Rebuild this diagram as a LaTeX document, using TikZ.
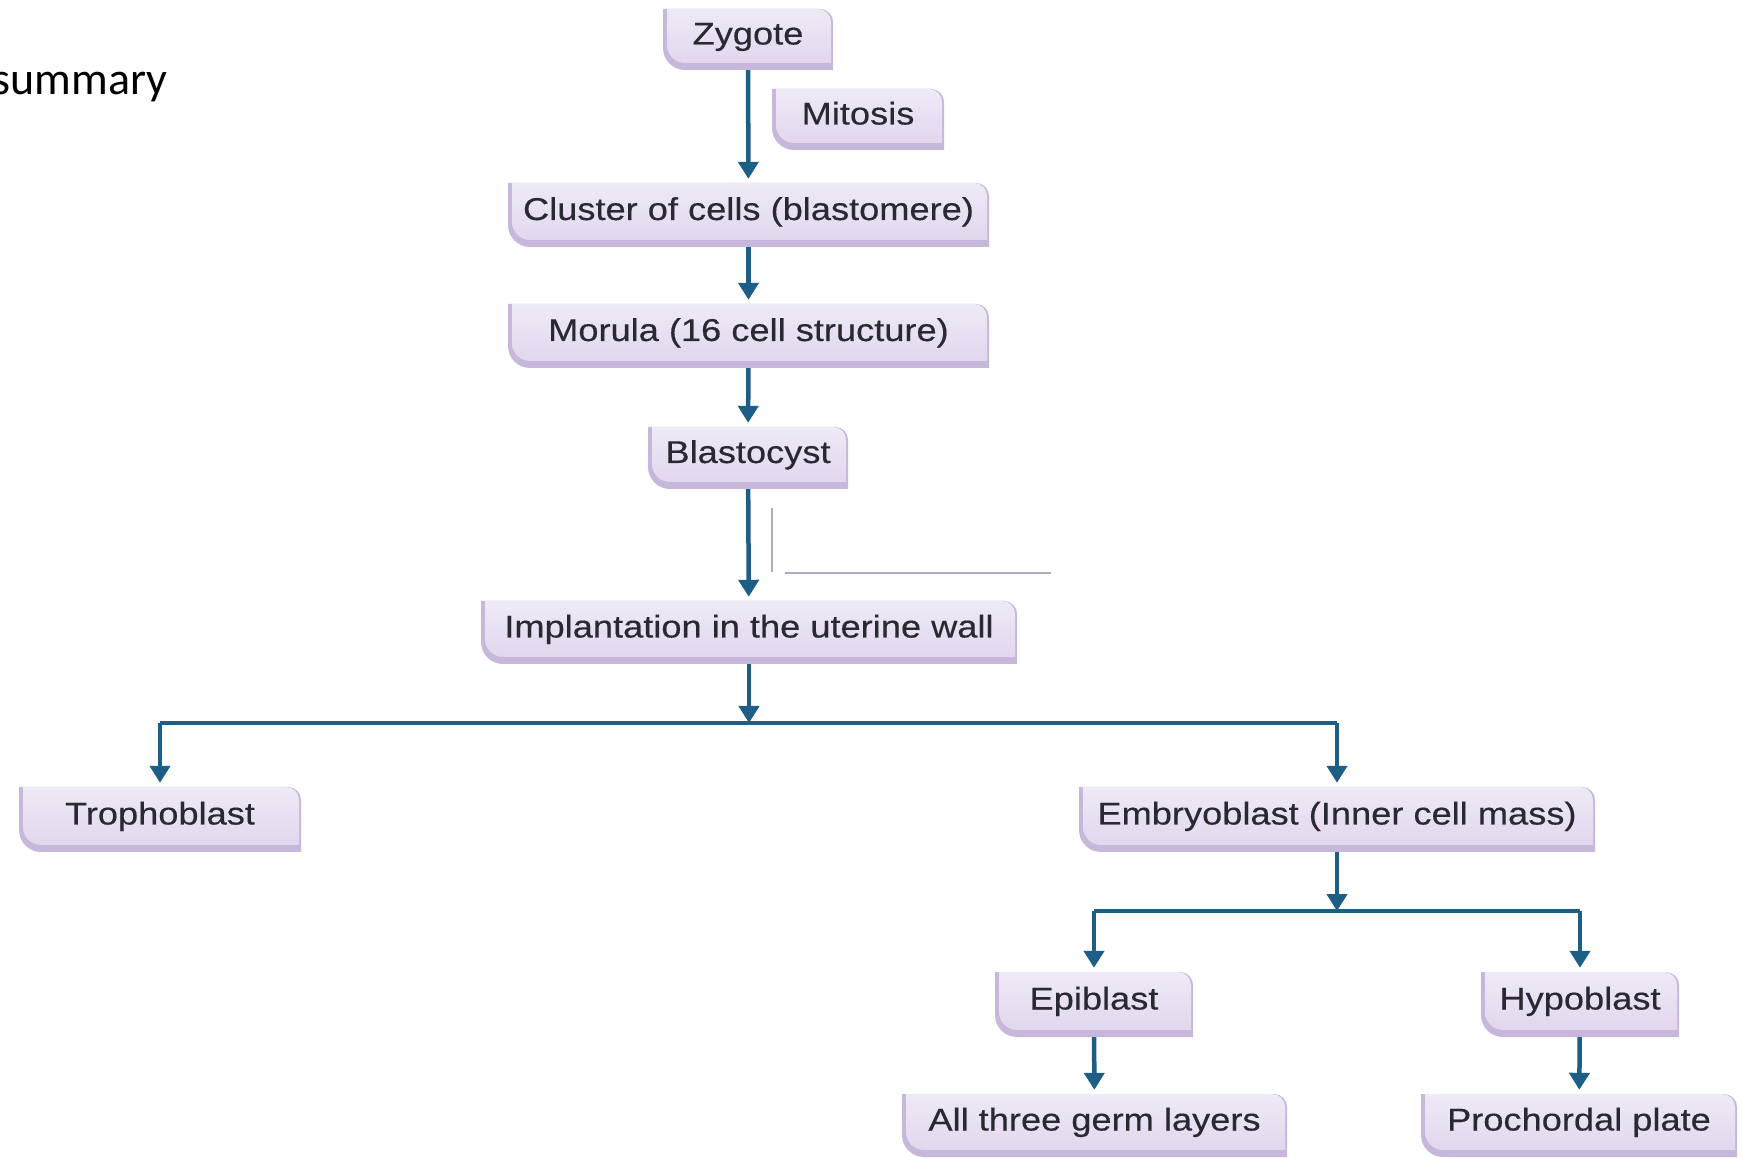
\documentclass[tikz,border=0pt]{standalone}
\usepackage{fontspec}
\setmainfont{Liberation Sans}
\newfontfamily\boxfont[FakeStretch=1.15, FakeBold=0.4]{Liberation Sans}
\newfontfamily\slidefont{Carlito}
\usetikzlibrary{arrows.meta}

\definecolor{arrowc}{HTML}{1D5E86}
\definecolor{tabtop}{HTML}{EFEAF6}
\definecolor{tabbot}{HTML}{E1D7EE}
\definecolor{tabedge}{HTML}{C7B8DB}
\definecolor{txtc}{HTML}{2A2932}
\definecolor{stray}{HTML}{ADADBE}

\tikzset{
	stagebox/.style={fill=white, inner sep=0pt, minimum height=63pt, text=txtc,
		text height=22pt, text depth=12pt,
		font=\boxfont\fontsize{31.5}{36}\selectfont,
		path picture={
			% darker edge on the left and bottom
			\fill[tabedge] (path picture bounding box.north west)
				-- ([xshift=-13pt]path picture bounding box.north east)
				arc[start angle=90, end angle=0, radius=13pt]
				-- (path picture bounding box.south east)
				-- ([xshift=22pt]path picture bounding box.south west)
				arc[start angle=270, end angle=180, radius=22pt] -- cycle;
			% light face
			\shade[top color=tabtop, bottom color=tabbot]
				([xshift=4pt]path picture bounding box.north west)
				-- ([xshift=-15pt]path picture bounding box.north east)
				arc[start angle=90, end angle=0, radius=13pt]
				-- ([xshift=-2pt, yshift=7pt]path picture bounding box.south east)
				-- ([xshift=22pt, yshift=7pt]path picture bounding box.south west)
				arc[start angle=270, end angle=180, radius=18pt] -- cycle;
		}},
	flow/.style={arrowc, line width=4.5pt, -{Triangle[width=20pt, length=17pt]}, shorten >=4pt},
	bar/.style={arrowc, line width=4.5pt},
}

\begin{document}
\begin{tikzpicture}[x=1pt, y=1pt]
	
	\fill[white] (0,0) rectangle (1742,1157);
	\useasboundingbox (0,0) rectangle (1742,1157);
	
	\node[anchor=base west, font=\slidefont\fontsize{46}{55}\selectfont] (ttl) at (-11,1062) {summary};
	
	% stages
	\node[stagebox, minimum width=170pt, minimum height=61pt] (zyg) at (748,1117.5) {Zygote};
	\node[stagebox, minimum width=172pt, minimum height=61pt] (mit) at (858,1037.5) {Mitosis};
	\node[stagebox, minimum width=481pt, minimum height=64pt] (clu) at (748.5,942) {Cluster of cells (blastomere)};
	\node[stagebox, minimum width=481pt, minimum height=64pt] (mor) at (748.5,821) {Morula (16 cell structure)};
	\node[stagebox, minimum width=200pt, minimum height=62pt] (bla) at (748,699) {Blastocyst};
	\node[stagebox, minimum width=536pt] (imp) at (749,524.5) {Implantation in the uterine wall};
	\node[stagebox, minimum width=282pt, minimum height=65pt] (tro) at (160,337.5) {Trophoblast};
	\node[stagebox, minimum width=516pt, minimum height=65pt] (emb) at (1337,337.5) {Embryoblast (Inner cell mass)};
	\node[stagebox, minimum width=198pt, minimum height=65pt] (epi) at (1094,152.5) {Epiblast};
	\node[stagebox, minimum width=198pt, minimum height=65pt] (hyp) at (1580,152.5) {Hypoblast};
	\node[stagebox, minimum width=385pt] (ger) at (1094.5,31.5) {All three germ layers};
	\node[stagebox, minimum width=316pt] (pro) at (1579,31.5) {Prochordal plate};
	
	% branch points
	\coordinate (j1) at (749,434);
	\coordinate (j1l) at (tro.north |- j1);
	\coordinate (j1r) at (emb.north |- j1);
	\coordinate (j2) at (1337,246);
	\coordinate (j2l) at (epi.north |- j2);
	\coordinate (j2r) at (hyp.north |- j2);
	
	% stray grey lines
	\draw[stray, line width=1.5pt] (772,649) -- (772,585);
	\draw[stray, line width=2pt] (785,584) -- (1051,584);
	
	\begin{scope}
		\draw[flow] (zyg) -- (clu);
		\draw[flow] (clu) -- (mor);
		\draw[flow] (mor) -- (bla);
		\draw[flow] (bla) -- (imp);
		
		\draw[flow, shorten >=0pt] (imp) -- (j1);
		\draw[bar] (j1l) -- (j1r);
		\draw[flow] (j1l) -- (tro);
		\draw[flow] (j1r) -- (emb);
		
		\draw[flow, shorten >=0pt] (emb) -- (j2);
		\draw[bar] (j2l) -- (j2r);
		\draw[flow] (j2l) -- (epi);
		\draw[flow] (j2r) -- (hyp);
		
		\draw[flow] (epi) -- (ger);
		\draw[flow] (hyp) -- (pro);
	\end{scope}
	
\end{tikzpicture}
\end{document}
